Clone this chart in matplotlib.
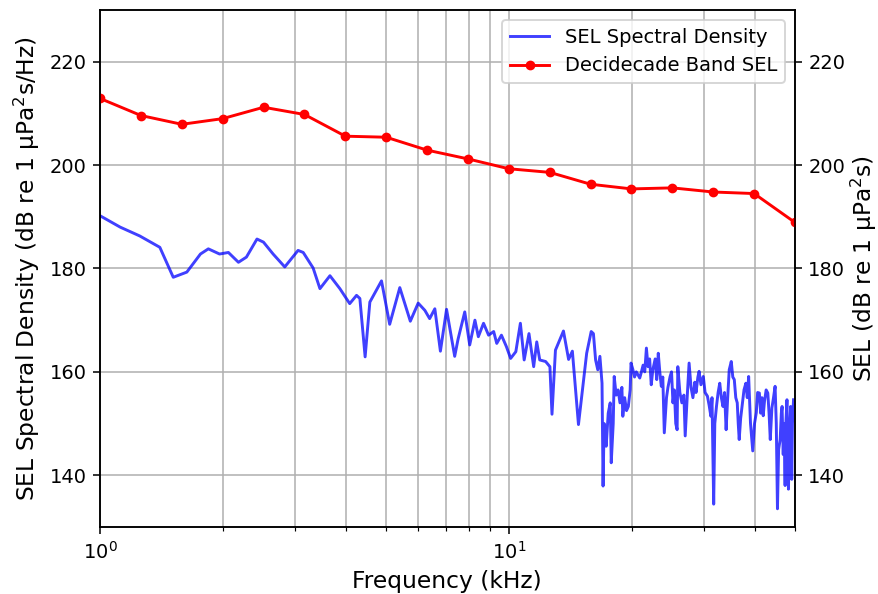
import matplotlib
matplotlib.use("Agg")
import matplotlib.pyplot as plt

# decidecade band centres (kHz) and band SEL
band_freq = [1.0, 1.259, 1.585, 1.995, 2.512, 3.162, 3.981, 5.012, 6.31, 7.943,
             10.0, 12.59, 15.85, 19.95, 25.12, 31.62, 39.81, 50.12]
band_sel = [212.9, 209.6, 207.9, 209.0, 211.2, 209.8, 205.6, 205.4, 202.9, 201.2,
            199.3, 198.6, 196.3, 195.4, 195.6, 194.8, 194.5, 188.9]

# spectral density
psd_freq = [1.00, 1.12, 1.25, 1.40, 1.51, 1.63, 1.76, 1.84, 1.96, 2.06,
            2.18, 2.28, 2.42, 2.51, 2.65, 2.83, 3.05, 3.14, 3.32, 3.45,
            3.65, 3.86, 4.08, 4.24, 4.32, 4.45, 4.57, 4.88, 5.11, 5.41,
            5.74, 6.00, 6.23, 6.40, 6.59, 6.80, 7.04, 7.37, 7.51, 7.80,
            8.02, 8.26, 8.42, 8.67, 8.92, 9.18, 9.34, 9.59, 9.86, 10.1,
            10.4, 10.67, 10.9, 11.2, 11.5, 11.7, 11.9, 12.3, 12.6, 12.75,
            13.0, 13.6, 14.0, 14.3, 14.8, 15.5, 15.9, 16.1, 16.3, 16.5,
            16.7, 16.9, 17.0, 17.1, 17.2, 17.3, 17.5, 17.7, 17.8, 18.0,
            18.1, 18.3, 18.5, 18.7, 18.9, 19.0, 19.2, 19.4, 19.6, 19.8,
            19.9, 20.1, 20.3, 20.5, 20.9, 21.1, 21.3, 21.5, 21.7, 21.9,
            22.1, 22.3, 22.5, 22.8, 23.0, 23.2, 23.4, 23.6, 23.8, 24.0,
            24.3, 24.5, 24.8, 25.0, 25.2, 25.4, 25.6, 25.8, 25.9, 26.2,
            26.5, 26.8, 27.0, 27.3, 27.6, 27.9, 28.2, 28.5, 28.7, 29.0,
            29.2, 29.5, 29.9, 30.2, 30.6, 30.9, 31.2, 31.4, 31.7, 31.9,
            32.2, 32.5, 32.8, 33.1, 33.4, 33.7, 34.0, 34.3, 34.6, 35.0,
            35.3, 35.6, 35.9, 36.2, 36.4, 36.6, 36.9, 37.2, 37.6, 38.0,
            38.3, 38.6, 39.0, 39.5, 39.9, 40.3, 40.6, 41.0, 41.3, 41.6,
            41.9, 42.2, 42.6, 43.0, 43.3, 43.6, 44.0, 44.4, 44.8, 45.1,
            45.4, 45.7, 46.1, 46.4, 46.6, 46.9, 47.1, 47.4, 47.6, 47.9,
            48.1, 48.3, 48.6, 48.9, 49.1, 49.2, 49.4, 49.7]
psd_val = [190.2, 188.0, 186.3, 184.1, 178.3, 179.3, 182.8, 183.8, 182.8, 183.1,
           181.2, 182.2, 185.7, 185.1, 182.8, 180.3, 183.5, 183.1, 180.1, 176.1,
           178.6, 176.1, 173.2, 174.8, 174.2, 162.9, 173.5, 177.6, 169.2, 176.3,
           169.8, 173.3, 171.9, 170.3, 172.2, 164.0, 172.1, 163.0, 166.3, 171.6,
           165.2, 170.0, 166.8, 169.4, 167.1, 167.8, 165.5, 167.1, 164.9, 162.6,
           163.9, 169.4, 162.3, 167.4, 161.0, 165.8, 162.3, 162.0, 161.0, 151.8,
           164.2, 167.9, 162.4, 164.0, 149.8, 163.6, 167.8, 167.4, 162.3, 160.4,
           163.0, 157.8, 137.9, 150.0, 148.8, 145.6, 152.0, 154.0, 142.4, 150.0,
           159.1, 155.5, 156.5, 154.0, 157.0, 151.4, 155.0, 152.5, 153.3, 156.5,
           161.7, 160.5, 159.0, 160.0, 158.8, 160.0, 161.3, 160.0, 164.6, 161.0,
           162.5, 157.5, 160.4, 162.5, 158.5, 163.6, 160.0, 157.2, 159.0, 148.2,
           155.0, 157.0, 159.1, 160.0, 154.0, 156.5, 150.0, 148.8, 161.0, 156.0,
           154.0, 155.5, 147.6, 155.0, 161.7, 157.0, 155.0, 158.0, 156.0, 159.0,
           160.1, 157.5, 159.1, 156.0, 155.3, 153.5, 151.4, 155.0, 134.4, 150.0,
           153.3, 156.0, 157.8, 155.0, 153.3, 156.0, 148.8, 155.0, 160.4, 162.0,
           159.0, 158.5, 155.0, 154.0, 150.0, 146.9, 151.0, 153.3, 156.5, 157.8,
           155.0, 159.1, 150.1, 144.7, 150.0, 152.1, 156.0, 155.9, 152.0, 155.0,
           151.5, 154.3, 156.5, 155.9, 152.0, 146.9, 153.0, 155.0, 157.2, 150.0,
           133.5, 145.0, 146.9, 152.0, 153.3, 144.0, 150.0, 138.0, 150.0, 154.6,
           145.0, 137.3, 148.0, 153.3, 145.0, 139.2, 150.0, 154.6]

fig, ax = plt.subplots(figsize=(878/140, 594/140), dpi=140)
fig.subplots_adjust(left=0.114, right=0.905, top=0.983, bottom=0.113)

l1, = ax.plot(psd_freq, psd_val, color="blue", lw=1.5, alpha=0.75,
              label="SEL Spectral Density")
ax.set_xscale("log")
ax.set_xlim(1, 50)
ax.set_ylim(130, 230)
ax.set_xlabel("Frequency (kHz)", fontsize=12)
ax.set_ylabel("SEL Spectral Density (dB re 1 μPa$^2$s/Hz)", fontsize=12)
ax.grid(True, which="both", axis="x")
ax.grid(True, which="major", axis="y")

ax2 = ax.twinx()
l2, = ax2.plot(band_freq, band_sel, "o-", color="red", ms=4, lw=1.5,
               label="Decidecade Band SEL")
ax2.set_ylim(130, 230)
ax2.set_ylabel("SEL (dB re 1 μPa$^2$s)", fontsize=12, labelpad=2)

ax2.legend(handles=[l1, l2], loc="upper right", fontsize=10)

plt.savefig("out.png", dpi=140)
plt.close()
